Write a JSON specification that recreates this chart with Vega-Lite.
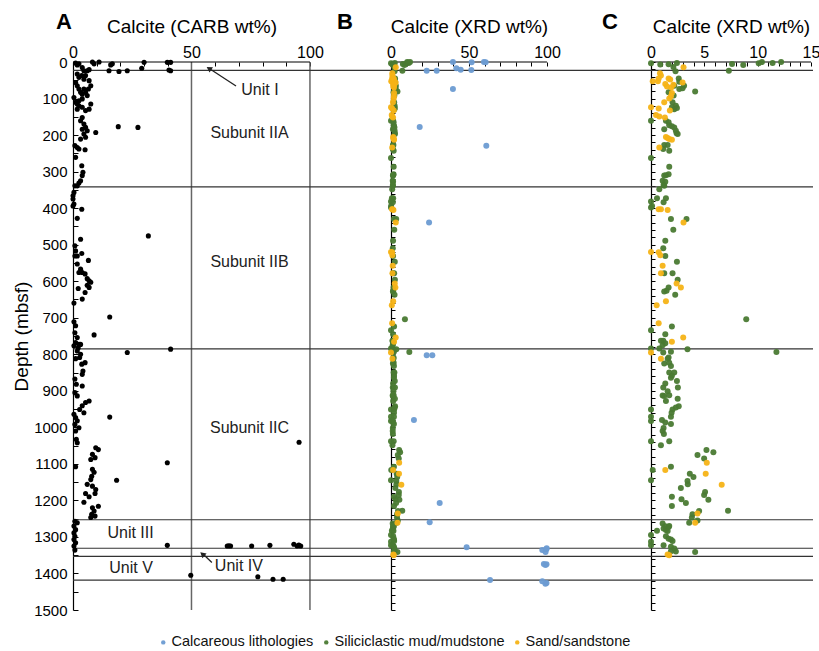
{
  "$schema": "https://vega.github.io/schema/vega-lite/v6.json",
  "autosize": {"type": "pad"},
  "padding": {"left": 12, "top": 11, "right": 0, "bottom": 5},
  "config": {
    "view": {"stroke": null},
    "font": "Liberation Sans",
    "axis": {"domainColor": "#000", "tickColor": "#000", "labelColor": "#000", "titleColor": "#000", "grid": false, "titleFontWeight": "normal", "domainWidth": 1.2, "tickWidth": 1, "labelOverlap": false, "tickCount": 500},
    "text": {"font": "Liberation Sans"}
  },
  "datasets": {
    "carb": [
      {"v":1.1,"d":3},{"v":1.8,"d":8},{"v":2.5,"d":5},{"v":8.2,"d":0},{"v":8.9,"d":5},{"v":11,"d":0},{"v":15.9,"d":8},{"v":16.6,"d":5},{"v":15.2,"d":24},{"v":19.4,"d":26},{"v":22.9,"d":24},{"v":29,"d":17},{"v":30,"d":1},{"v":39.8,"d":1},{"v":41.2,"d":1},{"v":40.5,"d":22},{"v":41.2,"d":24},
      {"v":3.9,"d":15},{"v":4.6,"d":24},{"v":6,"d":24},{"v":6.8,"d":21},
      {"v":1.8,"d":33},{"v":2.5,"d":42},{"v":3.7,"d":37},{"v":4.6,"d":47},{"v":5.3,"d":37},
      {"v":6.8,"d":51},{"v":7.5,"d":65},{"v":6.5,"d":74},{"v":5.3,"d":83},{"v":3.9,"d":88},
      {"v":1.1,"d":56},{"v":1.8,"d":65},{"v":2.5,"d":74},{"v":3.2,"d":83},
      {"v":4.6,"d":74},{"v":6,"d":92},{"v":3.9,"d":101},{"v":2.5,"d":106},
      {"v":0.4,"d":97},{"v":1.1,"d":110},{"v":1.8,"d":115},{"v":2.5,"d":120},{"v":1.8,"d":129},
      {"v":3.9,"d":124},{"v":5.3,"d":133},{"v":6.8,"d":129},{"v":7.5,"d":115},
      {"v":3.9,"d":152},{"v":3.2,"d":161},{"v":4.6,"d":170},{"v":5.3,"d":179},{"v":6,"d":188},{"v":3.9,"d":184},
      {"v":9.6,"d":193},{"v":19.1,"d":177},{"v":27.4,"d":179},
      {"v":4.6,"d":197},{"v":5.3,"d":206},{"v":3.2,"d":211},
      {"v":0.8,"d":229},{"v":1.8,"d":234},{"v":2.5,"d":238},{"v":5.1,"d":240},
      {"v":1.1,"d":261},{"v":3.7,"d":284},{"v":4.2,"d":302},{"v":3.9,"d":311},
      {"v":3.2,"d":325},{"v":2.5,"d":331},{"v":1.8,"d":339},{"v":0.8,"d":339},
      {"v":0.4,"d":357},{"v":0,"d":366},{"v":0,"d":375},{"v":0.4,"d":389},{"v":0,"d":394},
      {"v":3.7,"d":403},{"v":1.8,"d":428},{"v":31.8,"d":476},{"v":3.2,"d":485},
      {"v":0.8,"d":503},{"v":1.1,"d":517},{"v":1.8,"d":531},{"v":0.8,"d":531},{"v":3.7,"d":524},{"v":6.5,"d":543},
      {"v":1.8,"d":553},{"v":3.2,"d":567},{"v":2.5,"d":576},{"v":3.9,"d":576},{"v":5.1,"d":580},
      {"v":6,"d":593},{"v":6.8,"d":599},{"v":7.5,"d":603},{"v":6,"d":611},{"v":6.8,"d":617},{"v":5.1,"d":631},{"v":2.2,"d":620},
      {"v":3.9,"d":649},{"v":0.4,"d":660},{"v":15.5,"d":698},
      {"v":0.4,"d":711},{"v":1.1,"d":722},{"v":0.8,"d":741},{"v":1.8,"d":754},{"v":1.1,"d":768},{"v":2.5,"d":773},{"v":8.9,"d":747},
      {"v":0.4,"d":777},{"v":2.2,"d":782},{"v":3.2,"d":773},
      {"v":41.2,"d":786},{"v":22.9,"d":795},{"v":1.8,"d":791},{"v":3.2,"d":800},
      {"v":2.8,"d":809},{"v":1.1,"d":812},{"v":5.1,"d":823},{"v":3.7,"d":827},{"v":4.2,"d":846},{"v":3.9,"d":855},
      {"v":0.8,"d":868},{"v":1.4,"d":882},{"v":3.9,"d":887},{"v":0.8,"d":905},{"v":1.8,"d":914},
      {"v":6.8,"d":928},{"v":5.3,"d":932},{"v":3.9,"d":941},{"v":2.8,"d":951},{"v":4.6,"d":960},{"v":15.5,"d":972},
      {"v":0.4,"d":964},{"v":1.1,"d":973},{"v":1.8,"d":982},{"v":0.8,"d":992},{"v":2.5,"d":1001},{"v":1.1,"d":1010},
      {"v":1.4,"d":1033},{"v":1.8,"d":1042},{"v":95.4,"d":1041},
      {"v":9.6,"d":1056},{"v":10.7,"d":1061},{"v":8.2,"d":1074},{"v":9.3,"d":1083},{"v":7.5,"d":1088},
      {"v":39.8,"d":1097},{"v":1.1,"d":1108},
      {"v":8.2,"d":1115},{"v":8.9,"d":1123},{"v":7.9,"d":1134},{"v":7.5,"d":1143},{"v":6,"d":1156},{"v":8.2,"d":1161},{"v":18.4,"d":1145},
      {"v":4.6,"d":1205},{"v":9.6,"d":1170},{"v":9.3,"d":1181},{"v":5.3,"d":1181},{"v":6.8,"d":1190},
      {"v":10.7,"d":1216},{"v":8.2,"d":1220},{"v":8.9,"d":1229},{"v":7.9,"d":1238},{"v":9.3,"d":1243},{"v":7.5,"d":1247},
      {"v":0.8,"d":1257},{"v":1.8,"d":1261},{"v":0.4,"d":1270},{"v":1.1,"d":1280},{"v":0.4,"d":1289},{"v":0.8,"d":1298},{"v":0.4,"d":1307},{"v":1.1,"d":1316},{"v":0.4,"d":1325},{"v":0.8,"d":1336},
      {"v":39.8,"d":1323},
      {"v":65.1,"d":1325},{"v":66.5,"d":1325},{"v":65.8,"d":1324},{"v":75.4,"d":1325},{"v":83.1,"d":1323},{"v":93.2,"d":1320},{"v":94.6,"d":1325},{"v":96.1,"d":1325},{"v":95.3,"d":1322},
      {"v":49.7,"d":1405},{"v":78,"d":1409},{"v":84.4,"d":1416},{"v":88.7,"d":1416}
    ],
    "xrd": [
      {"lith":"Siliciclastic mud/mudstone","v":0,"d":3.6},{"lith":"Siliciclastic mud/mudstone","v":0.87,"d":7},{"lith":"Siliciclastic mud/mudstone","v":1.65,"d":6.4},{"lith":"Siliciclastic mud/mudstone","v":2.43,"d":2.7},{"lith":"Siliciclastic mud/mudstone","v":2.1,"d":14},{"lith":"Siliciclastic mud/mudstone","v":2.3,"d":25.6},{"lith":"Siliciclastic mud/mudstone","v":7.6,"d":5.5},{"lith":"Siliciclastic mud/mudstone","v":7.3,"d":23.7},{"lith":"Siliciclastic mud/mudstone","v":8.65,"d":8.2},{"lith":"Siliciclastic mud/mudstone","v":10.1,"d":3.7},{"lith":"Siliciclastic mud/mudstone","v":10.4,"d":0},{"lith":"Siliciclastic mud/mudstone","v":11.4,"d":2.7},{"lith":"Siliciclastic mud/mudstone","v":12.2,"d":0},
      {"lith":"Siliciclastic mud/mudstone","v":2.6,"d":45},{"lith":"Siliciclastic mud/mudstone","v":2.65,"d":54},{"lith":"Siliciclastic mud/mudstone","v":3.1,"d":65},{"lith":"Siliciclastic mud/mudstone","v":2.96,"d":72},{"lith":"Siliciclastic mud/mudstone","v":2.65,"d":74},{"lith":"Siliciclastic mud/mudstone","v":2.18,"d":65},{"lith":"Siliciclastic mud/mudstone","v":4.14,"d":81},{"lith":"Siliciclastic mud/mudstone","v":1.65,"d":83},
      {"lith":"Siliciclastic mud/mudstone","v":2.12,"d":92},{"lith":"Siliciclastic mud/mudstone","v":2.02,"d":110},{"lith":"Siliciclastic mud/mudstone","v":2.33,"d":120},{"lith":"Siliciclastic mud/mudstone","v":2.18,"d":129},{"lith":"Siliciclastic mud/mudstone","v":2.43,"d":126},{"lith":"Siliciclastic mud/mudstone","v":1.96,"d":124},
      {"lith":"Siliciclastic mud/mudstone","v":0,"d":161},{"lith":"Siliciclastic mud/mudstone","v":1.4,"d":161},{"lith":"Siliciclastic mud/mudstone","v":1.65,"d":165},{"lith":"Siliciclastic mud/mudstone","v":1.71,"d":173},{"lith":"Siliciclastic mud/mudstone","v":1.96,"d":176},{"lith":"Siliciclastic mud/mudstone","v":2.18,"d":179},{"lith":"Siliciclastic mud/mudstone","v":2.33,"d":188},{"lith":"Siliciclastic mud/mudstone","v":2.4,"d":195},{"lith":"Siliciclastic mud/mudstone","v":2.5,"d":197},{"lith":"Siliciclastic mud/mudstone","v":1.24,"d":184},
      {"lith":"Siliciclastic mud/mudstone","v":1.24,"d":227},{"lith":"Siliciclastic mud/mudstone","v":1.56,"d":227},{"lith":"Siliciclastic mud/mudstone","v":1.15,"d":238},{"lith":"Siliciclastic mud/mudstone","v":1.71,"d":243},{"lith":"Siliciclastic mud/mudstone","v":0,"d":263},{"lith":"Siliciclastic mud/mudstone","v":1.71,"d":287},{"lith":"Siliciclastic mud/mudstone","v":1.65,"d":307},{"lith":"Siliciclastic mud/mudstone","v":1.4,"d":310},{"lith":"Siliciclastic mud/mudstone","v":1.24,"d":311},
      {"lith":"Siliciclastic mud/mudstone","v":1.09,"d":325},{"lith":"Siliciclastic mud/mudstone","v":1.34,"d":328},{"lith":"Siliciclastic mud/mudstone","v":1.18,"d":337},{"lith":"Siliciclastic mud/mudstone","v":1.24,"d":339},
      {"lith":"Siliciclastic mud/mudstone","v":0.78,"d":348},{"lith":"Siliciclastic mud/mudstone","v":1.4,"d":373},{"lith":"Siliciclastic mud/mudstone","v":0.56,"d":373},{"lith":"Siliciclastic mud/mudstone","v":0,"d":382},{"lith":"Siliciclastic mud/mudstone","v":0.1,"d":394},{"lith":"Siliciclastic mud/mudstone","v":0,"d":398},{"lith":"Siliciclastic mud/mudstone","v":1.18,"d":384},
      {"lith":"Siliciclastic mud/mudstone","v":1.87,"d":430},{"lith":"Siliciclastic mud/mudstone","v":3.33,"d":430},{"lith":"Siliciclastic mud/mudstone","v":2.09,"d":459},{"lith":"Siliciclastic mud/mudstone","v":1.34,"d":489},{"lith":"Siliciclastic mud/mudstone","v":1.15,"d":510},{"lith":"Siliciclastic mud/mudstone","v":1.34,"d":531},{"lith":"Siliciclastic mud/mudstone","v":2.43,"d":547},
      {"lith":"Siliciclastic mud/mudstone","v":1.24,"d":578},{"lith":"Siliciclastic mud/mudstone","v":2.02,"d":578},{"lith":"Siliciclastic mud/mudstone","v":2.5,"d":596},{"lith":"Siliciclastic mud/mudstone","v":1.65,"d":617},{"lith":"Siliciclastic mud/mudstone","v":1.46,"d":626},{"lith":"Siliciclastic mud/mudstone","v":1.24,"d":628},{"lith":"Siliciclastic mud/mudstone","v":2.27,"d":637},
      {"lith":"Siliciclastic mud/mudstone","v":0,"d":734},{"lith":"Siliciclastic mud/mudstone","v":1.96,"d":724},{"lith":"Siliciclastic mud/mudstone","v":8.93,"d":704},{"lith":"Siliciclastic mud/mudstone","v":1.34,"d":745},{"lith":"Siliciclastic mud/mudstone","v":1.15,"d":763},{"lith":"Siliciclastic mud/mudstone","v":0.93,"d":763},{"lith":"Siliciclastic mud/mudstone","v":1.34,"d":770},{"lith":"Siliciclastic mud/mudstone","v":1.09,"d":775},
      {"lith":"Siliciclastic mud/mudstone","v":0,"d":784},{"lith":"Siliciclastic mud/mudstone","v":0.78,"d":784},{"lith":"Siliciclastic mud/mudstone","v":1.15,"d":795},{"lith":"Siliciclastic mud/mudstone","v":1.87,"d":793},{"lith":"Siliciclastic mud/mudstone","v":3.42,"d":786},{"lith":"Siliciclastic mud/mudstone","v":1.65,"d":809},{"lith":"Siliciclastic mud/mudstone","v":11.76,"d":794},
      {"lith":"Siliciclastic mud/mudstone","v":1.56,"d":812},{"lith":"Siliciclastic mud/mudstone","v":1.24,"d":825},{"lith":"Siliciclastic mud/mudstone","v":1.71,"d":823},{"lith":"Siliciclastic mud/mudstone","v":1.87,"d":832},{"lith":"Siliciclastic mud/mudstone","v":1.71,"d":850},{"lith":"Siliciclastic mud/mudstone","v":2.18,"d":850},{"lith":"Siliciclastic mud/mudstone","v":1.96,"d":859},{"lith":"Siliciclastic mud/mudstone","v":1.87,"d":864},
      {"lith":"Siliciclastic mud/mudstone","v":2.43,"d":873},{"lith":"Siliciclastic mud/mudstone","v":2.52,"d":891},{"lith":"Siliciclastic mud/mudstone","v":1.34,"d":880},{"lith":"Siliciclastic mud/mudstone","v":1.15,"d":891},{"lith":"Siliciclastic mud/mudstone","v":1.56,"d":901},
      {"lith":"Siliciclastic mud/mudstone","v":1.09,"d":913},{"lith":"Siliciclastic mud/mudstone","v":1.24,"d":914},{"lith":"Siliciclastic mud/mudstone","v":1.71,"d":912},{"lith":"Siliciclastic mud/mudstone","v":1.4,"d":928},{"lith":"Siliciclastic mud/mudstone","v":2.5,"d":922},
      {"lith":"Siliciclastic mud/mudstone","v":2.6,"d":942},{"lith":"Siliciclastic mud/mudstone","v":2.33,"d":946},{"lith":"Siliciclastic mud/mudstone","v":2.02,"d":951},{"lith":"Siliciclastic mud/mudstone","v":1.93,"d":960},{"lith":"Siliciclastic mud/mudstone","v":1.87,"d":971},{"lith":"Siliciclastic mud/mudstone","v":0,"d":951},{"lith":"Siliciclastic mud/mudstone","v":0,"d":971},{"lith":"Siliciclastic mud/mudstone","v":0,"d":983},
      {"lith":"Siliciclastic mud/mudstone","v":1.03,"d":980},{"lith":"Siliciclastic mud/mudstone","v":1.34,"d":987},{"lith":"Siliciclastic mud/mudstone","v":1.87,"d":991},{"lith":"Siliciclastic mud/mudstone","v":1.18,"d":1002},{"lith":"Siliciclastic mud/mudstone","v":1.09,"d":1010},{"lith":"Siliciclastic mud/mudstone","v":1.21,"d":1018},
      {"lith":"Siliciclastic mud/mudstone","v":0,"d":1038},{"lith":"Siliciclastic mud/mudstone","v":0.93,"d":1049},{"lith":"Siliciclastic mud/mudstone","v":1.71,"d":1038},
      {"lith":"Siliciclastic mud/mudstone","v":5.2,"d":1062},{"lith":"Siliciclastic mud/mudstone","v":5.85,"d":1068},{"lith":"Siliciclastic mud/mudstone","v":4.36,"d":1076},{"lith":"Siliciclastic mud/mudstone","v":4.98,"d":1085},
      {"lith":"Siliciclastic mud/mudstone","v":0.16,"d":1117},{"lith":"Siliciclastic mud/mudstone","v":1.87,"d":1108},{"lith":"Siliciclastic mud/mudstone","v":3.64,"d":1127},{"lith":"Siliciclastic mud/mudstone","v":3.98,"d":1136},{"lith":"Siliciclastic mud/mudstone","v":0,"d":1145},{"lith":"Siliciclastic mud/mudstone","v":3.42,"d":1147},{"lith":"Siliciclastic mud/mudstone","v":3.45,"d":1156},
      {"lith":"Siliciclastic mud/mudstone","v":2.8,"d":1166},{"lith":"Siliciclastic mud/mudstone","v":5.07,"d":1177},{"lith":"Siliciclastic mud/mudstone","v":4.98,"d":1185},{"lith":"Siliciclastic mud/mudstone","v":5.38,"d":1198},{"lith":"Siliciclastic mud/mudstone","v":1.96,"d":1190},{"lith":"Siliciclastic mud/mudstone","v":2.86,"d":1197},{"lith":"Siliciclastic mud/mudstone","v":3.27,"d":1207},{"lith":"Siliciclastic mud/mudstone","v":1.96,"d":1215},
      {"lith":"Siliciclastic mud/mudstone","v":7.22,"d":1228},{"lith":"Siliciclastic mud/mudstone","v":4.51,"d":1229},{"lith":"Siliciclastic mud/mudstone","v":3.89,"d":1238},{"lith":"Siliciclastic mud/mudstone","v":3.83,"d":1247},{"lith":"Siliciclastic mud/mudstone","v":3.58,"d":1261},{"lith":"Siliciclastic mud/mudstone","v":4.36,"d":1255},
      {"lith":"Siliciclastic mud/mudstone","v":1.09,"d":1263},{"lith":"Siliciclastic mud/mudstone","v":1.34,"d":1271},{"lith":"Siliciclastic mud/mudstone","v":1.65,"d":1273},{"lith":"Siliciclastic mud/mudstone","v":1.4,"d":1281},{"lith":"Siliciclastic mud/mudstone","v":1.18,"d":1277},{"lith":"Siliciclastic mud/mudstone","v":1.56,"d":1284},{"lith":"Siliciclastic mud/mudstone","v":1.71,"d":1270},{"lith":"Siliciclastic mud/mudstone","v":0.56,"d":1283},
      {"lith":"Siliciclastic mud/mudstone","v":0,"d":1295},{"lith":"Siliciclastic mud/mudstone","v":0,"d":1313},{"lith":"Siliciclastic mud/mudstone","v":0,"d":1323},{"lith":"Siliciclastic mud/mudstone","v":1.4,"d":1298},{"lith":"Siliciclastic mud/mudstone","v":1.87,"d":1307},{"lith":"Siliciclastic mud/mudstone","v":2.02,"d":1311},{"lith":"Siliciclastic mud/mudstone","v":1.65,"d":1305},
      {"lith":"Siliciclastic mud/mudstone","v":1.18,"d":1323},{"lith":"Siliciclastic mud/mudstone","v":1.87,"d":1327},{"lith":"Siliciclastic mud/mudstone","v":2.18,"d":1332},{"lith":"Siliciclastic mud/mudstone","v":2.33,"d":1340},{"lith":"Siliciclastic mud/mudstone","v":1.87,"d":1339},{"lith":"Siliciclastic mud/mudstone","v":4.14,"d":1341},
      {"lith":"Sand/sandstone","v":3.05,"d":14.6},{"lith":"Sand/sandstone","v":0.84,"d":31},{"lith":"Sand/sandstone","v":0.93,"d":37},{"lith":"Sand/sandstone","v":0.72,"d":45},{"lith":"Sand/sandstone","v":0.16,"d":53},{"lith":"Sand/sandstone","v":0.65,"d":53},{"lith":"Sand/sandstone","v":1.65,"d":45},{"lith":"Sand/sandstone","v":1.8,"d":48},{"lith":"Sand/sandstone","v":1.34,"d":60},{"lith":"Sand/sandstone","v":2.96,"d":56},
      {"lith":"Sand/sandstone","v":1.5,"d":67},{"lith":"Sand/sandstone","v":1.9,"d":70},{"lith":"Sand/sandstone","v":2.1,"d":62},
      {"lith":"Sand/sandstone","v":1.96,"d":85},{"lith":"Sand/sandstone","v":1.71,"d":100},{"lith":"Sand/sandstone","v":1.87,"d":94},{"lith":"Sand/sandstone","v":1.24,"d":110},{"lith":"Sand/sandstone","v":0,"d":124},{"lith":"Sand/sandstone","v":0.72,"d":127},{"lith":"Sand/sandstone","v":1.77,"d":133},
      {"lith":"Sand/sandstone","v":0.47,"d":145},{"lith":"Sand/sandstone","v":0.78,"d":149},{"lith":"Sand/sandstone","v":1.3,"d":152},
      {"lith":"Sand/sandstone","v":1.4,"d":205},{"lith":"Sand/sandstone","v":1.56,"d":208},{"lith":"Sand/sandstone","v":1.71,"d":211},{"lith":"Sand/sandstone","v":1.96,"d":213},{"lith":"Sand/sandstone","v":0.78,"d":234},
      {"lith":"Sand/sandstone","v":0.72,"d":403},{"lith":"Sand/sandstone","v":0.93,"d":403},{"lith":"Sand/sandstone","v":1.56,"d":405},{"lith":"Sand/sandstone","v":3.05,"d":439},
      {"lith":"Sand/sandstone","v":0,"d":520},{"lith":"Sand/sandstone","v":0.72,"d":521},{"lith":"Sand/sandstone","v":0.87,"d":529},{"lith":"Sand/sandstone","v":1.09,"d":558},{"lith":"Sand/sandstone","v":0.93,"d":578},{"lith":"Sand/sandstone","v":2.4,"d":606},{"lith":"Sand/sandstone","v":2.8,"d":617},
      {"lith":"Sand/sandstone","v":1.4,"d":655},{"lith":"Sand/sandstone","v":0.53,"d":666},{"lith":"Sand/sandstone","v":0.72,"d":715},{"lith":"Sand/sandstone","v":3.02,"d":754},{"lith":"Sand/sandstone","v":1.96,"d":766},
      {"lith":"Sand/sandstone","v":0,"d":795},{"lith":"Sand/sandstone","v":0.93,"d":812},
      {"lith":"Sand/sandstone","v":5.23,"d":1097},{"lith":"Sand/sandstone","v":1.34,"d":1117},{"lith":"Sand/sandstone","v":5.13,"d":1127},{"lith":"Sand/sandstone","v":6.63,"d":1157},{"lith":"Sand/sandstone","v":4.36,"d":1236},{"lith":"Sand/sandstone","v":4.14,"d":1261},
      {"lith":"Sand/sandstone","v":1.56,"d":1348},{"lith":"Sand/sandstone","v":1.71,"d":1350},
      {"lith":"Calcareous lithologies","v":39.7,"d":0},{"lith":"Calcareous lithologies","v":51.7,"d":1},{"lith":"Calcareous lithologies","v":59.6,"d":0},{"lith":"Calcareous lithologies","v":60.7,"d":1},{"lith":"Calcareous lithologies","v":22.9,"d":24},{"lith":"Calcareous lithologies","v":29.3,"d":24},{"lith":"Calcareous lithologies","v":41.9,"d":17},{"lith":"Calcareous lithologies","v":44.7,"d":21},{"lith":"Calcareous lithologies","v":51.5,"d":22},{"lith":"Calcareous lithologies","v":39.7,"d":74},{"lith":"Calcareous lithologies","v":18.4,"d":178},{"lith":"Calcareous lithologies","v":61.1,"d":229},{"lith":"Calcareous lithologies","v":24.4,"d":439},{"lith":"Calcareous lithologies","v":22.9,"d":803},{"lith":"Calcareous lithologies","v":26.5,"d":803},{"lith":"Calcareous lithologies","v":14.7,"d":980},{"lith":"Calcareous lithologies","v":31.2,"d":1207},{"lith":"Calcareous lithologies","v":24.8,"d":1260},{"lith":"Calcareous lithologies","v":48.5,"d":1328},{"lith":"Calcareous lithologies","v":97,"d":1336},{"lith":"Calcareous lithologies","v":99.6,"d":1334},{"lith":"Calcareous lithologies","v":99.1,"d":1341},{"lith":"Calcareous lithologies","v":99.8,"d":1331},{"lith":"Calcareous lithologies","v":98,"d":1374},{"lith":"Calcareous lithologies","v":99.7,"d":1375},{"lith":"Calcareous lithologies","v":99,"d":1377},{"lith":"Calcareous lithologies","v":63.5,"d":1418},{"lith":"Calcareous lithologies","v":97,"d":1421},{"lith":"Calcareous lithologies","v":99.7,"d":1426},{"lith":"Calcareous lithologies","v":99,"d":1428}
    ],
    "bounds": [{"d":23},{"d":342},{"d":785},{"d":1253},{"d":1331},{"d":1353},{"d":1418}],
    "labels": [
      {"t":"Unit I","v":78.9,"d":77},
      {"t":"Subunit IIA","v":74.5,"d":194},
      {"t":"Subunit IIB","v":74.5,"d":548},
      {"t":"Subunit IIC","v":74.5,"d":1001},
      {"t":"Unit III","v":24.3,"d":1290},
      {"t":"Unit V","v":24.5,"d":1385},
      {"t":"Unit IV","v":70,"d":1379}
    ],
    "arrows": [
      {"id":"Unit I","v":68.8,"d":65.8,"v2":57.5,"d2":18},
      {"id":"Unit IV","v":58.6,"d":1370,"v2":55.2,"d2":1349}
    ],
    "heads": [
      {"id":"Unit I","v":57.7,"d":18.9},
      {"id":"Unit IV","v":54.9,"d":1348.7}
    ]
  },
  "spacing": 0,
  "bounds": "flush",
  "resolve": {"scale": {"color": "shared"}},
  "hconcat": [
    {
      "width": 318,
      "height": 548,
      "title": {"text": "A", "anchor": "start", "frame": "group", "dx": -17, "fontSize": 22, "fontWeight": "bold", "offset": -34, "baseline": "alphabetic", "color": "#000"},
      "layer": [
        {
          "data": {"name": "carb"},
          "mark": {"type": "point", "shape": "circle", "filled": true, "color": "#000", "size": 26, "opacity": 0},
          "encoding": {
            "x": {"field": "v", "type": "quantitative", "scale": {"domain": [0, 134.2], "nice": false, "zero": false},
              "axis": {"orient": "top", "tickCount": 500, "format": "d", "values": [0,10,20,30,40,50,60,70,80,90,100], "labelExpr": "datum.value % 50 === 0 ? datum.label : ''", "domain": false, "tickSize": -4, "labelPadding": 6, "labelFontSize": 16, "labelFlush": false, "title": "Calcite (CARB wt%)", "titleFontSize": 19, "titleX": 118.5, "titleY": -30, "titleBaseline": "alphabetic", "titleAlign": "center"}},
            "y": {"field": "d", "type": "quantitative", "scale": {"domain": [0, 1500], "reverse": true, "nice": false, "zero": false},
              "axis": {"orient": "left", "tickCount": 500, "format": "d", "values": [0,50,100,150,200,250,300,350,400,450,500,550,600,650,700,750,800,850,900,950,1000,1050,1100,1150,1200,1250,1300,1350,1400,1450,1500], "labelExpr": "datum.value % 100 === 0 ? datum.label : ''", "tickSize": -5, "labelPadding": 11, "labelFontSize": 15, "labelFlush": false, "labelOverlap": false, "labelBound": false, "title": "Depth (mbsf)", "titleFontSize": 19, "titleX": -52, "titleY": 274, "titleAngle": -90, "titleBaseline": "middle", "titleAlign": "center"}}
          }
        },
        {
          "data": {"values": [{"v": 50}, {"v": 100}]},
          "mark": {"type": "rule", "stroke": "#666", "strokeWidth": 1.5},
          "encoding": {
            "x": {"field": "v", "type": "quantitative", "scale": {"domain": [0, 134.2], "nice": false, "zero": false}}
          }
        },
        {
          "data": {"name": "bounds"},
          "mark": {"type": "rule", "stroke": "#333", "strokeWidth": 1.2},
          "encoding": {
            "y": {"field": "d", "type": "quantitative", "scale": {"domain": [0, 1500], "reverse": true, "nice": false, "zero": false}}
          }
        },
        {
          "data": {"values": [{"v": 0, "v2": 100, "d": 0}]},
          "mark": {"type": "rule", "stroke": "#000", "strokeWidth": 1.2},
          "encoding": {
            "x": {"field": "v", "type": "quantitative", "scale": {"domain": [0, 134.2], "nice": false, "zero": false}},
            "x2": {"field": "v2"},
            "y": {"field": "d", "type": "quantitative", "scale": {"domain": [0, 1500], "reverse": true, "nice": false, "zero": false}}
          }
        },
        {
          "data": {"name": "carb"},
          "mark": {"type": "point", "shape": "circle", "filled": true, "color": "#000", "size": 26, "opacity": 1},
          "encoding": {
            "x": {"field": "v", "type": "quantitative", "scale": {"domain": [0, 134.2], "nice": false, "zero": false}},
            "y": {"field": "d", "type": "quantitative", "scale": {"domain": [0, 1500], "reverse": true, "nice": false, "zero": false}}
          }
        },
        {
          "data": {"name": "labels"},
          "mark": {"type": "text", "fontSize": 16, "color": "#222", "align": "center", "baseline": "middle"},
          "encoding": {
            "x": {"field": "v", "type": "quantitative", "scale": {"domain": [0, 134.2], "nice": false, "zero": false}},
            "y": {"field": "d", "type": "quantitative", "scale": {"domain": [0, 1500], "reverse": true, "nice": false, "zero": false}},
            "text": {"field": "t"}
          }
        },
        {
          "data": {"name": "arrows"},
          "mark": {"type": "rule", "stroke": "#222", "strokeWidth": 1.3},
          "encoding": {
            "x": {"field": "v", "type": "quantitative", "scale": {"domain": [0, 134.2], "nice": false, "zero": false}},
            "x2": {"field": "v2"},
            "y": {"field": "d", "type": "quantitative", "scale": {"domain": [0, 1500], "reverse": true, "nice": false, "zero": false}},
            "y2": {"field": "d2"}
          }
        },
        {
          "data": {"name": "heads"},
          "transform": [{"filter": "datum.id === 'Unit I'"}],
          "mark": {"type": "point", "shape": "triangle", "filled": true, "color": "#222", "size": 40, "angle": 303, "opacity": 1},
          "encoding": {
            "x": {"field": "v", "type": "quantitative", "scale": {"domain": [0, 134.2], "nice": false, "zero": false}},
            "y": {"field": "d", "type": "quantitative", "scale": {"domain": [0, 1500], "reverse": true, "nice": false, "zero": false}}
          }
        },
        {
          "data": {"name": "heads"},
          "transform": [{"filter": "datum.id === 'Unit IV'"}],
          "mark": {"type": "point", "shape": "triangle", "filled": true, "color": "#222", "size": 40, "angle": 311, "opacity": 1},
          "encoding": {
            "x": {"field": "v", "type": "quantitative", "scale": {"domain": [0, 134.2], "nice": false, "zero": false}},
            "y": {"field": "d", "type": "quantitative", "scale": {"domain": [0, 1500], "reverse": true, "nice": false, "zero": false}}
          }
        }
      ]
    },
    {
      "width": 260,
      "height": 548,
      "title": {"text": "B", "anchor": "start", "frame": "group", "dx": -54, "fontSize": 22, "fontWeight": "bold", "offset": -34, "baseline": "alphabetic", "color": "#000"},
      "layer": [
        {
          "data": {"name": "xrd"},
          "mark": {"type": "point", "shape": "circle", "filled": true, "size": 36, "opacity": 0},
          "encoding": {
            "x": {"field": "v", "type": "quantitative", "scale": {"domain": [0, 166.7], "nice": false, "zero": false},
              "axis": {"orient": "top", "tickCount": 500, "format": "d", "values": [0,10,20,30,40,50,60,70,80,90,100], "labelExpr": "datum.value % 50 === 0 ? datum.label : ''", "domain": false, "tickSize": -4, "labelPadding": 6, "labelFontSize": 16, "labelFlush": false, "title": "Calcite (XRD wt%)", "titleFontSize": 19, "titleX": 78, "titleY": -30, "titleBaseline": "alphabetic", "titleAlign": "center"}},
            "y": {"field": "d", "type": "quantitative", "scale": {"domain": [0, 1500], "reverse": true, "nice": false, "zero": false},
              "axis": {"orient": "left", "tickCount": 500, "values": [0,20,40,60,80,100,120,140,160,180,200,220,240,260,280,300,320,340,360,380,400,420,440,460,480,500,520,540,560,580,600,620,640,660,680,700,720,740,760,780,800,820,840,860,880,900,920,940,960,980,1000,1020,1040,1060,1080,1100,1120,1140,1160,1180,1200,1220,1240,1260,1280,1300,1320,1340,1360,1380,1400,1420,1440,1460,1480,1500], "labels": false, "tickSize": -4, "title": null}}
          }
        },
        {
          "data": {"name": "bounds"},
          "mark": {"type": "rule", "stroke": "#333", "strokeWidth": 1.2},
          "encoding": {
            "y": {"field": "d", "type": "quantitative", "scale": {"domain": [0, 1500], "reverse": true, "nice": false, "zero": false}}
          }
        },
        {
          "data": {"values": [{"v": 0, "v2": 100, "d": 0}]},
          "mark": {"type": "rule", "stroke": "#000", "strokeWidth": 1.2},
          "encoding": {
            "x": {"field": "v", "type": "quantitative", "scale": {"domain": [0, 166.7], "nice": false, "zero": false}},
            "x2": {"field": "v2"},
            "y": {"field": "d", "type": "quantitative", "scale": {"domain": [0, 1500], "reverse": true, "nice": false, "zero": false}}
          }
        },
        {
          "data": {"name": "xrd"},
          "mark": {"type": "point", "shape": "circle", "filled": true, "size": 36, "opacity": 0.95},
          "encoding": {
            "x": {"field": "v", "type": "quantitative", "scale": {"domain": [0, 166.7], "nice": false, "zero": false}},
            "y": {"field": "d", "type": "quantitative", "scale": {"domain": [0, 1500], "reverse": true, "nice": false, "zero": false}},
            "color": {"field": "lith", "type": "nominal",
              "scale": {"domain": ["Calcareous lithologies", "Siliciclastic mud/mudstone", "Sand/sandstone"], "range": ["#6B9BD2", "#4A7A33", "#F5B316"]},
              "legend": {"orient": "none", "legendX": 83, "legendY": 573, "direction": "horizontal", "title": null, "symbolType": "circle", "symbolSize": 20, "labelFontSize": 14.5, "labelColor": "#111", "labelLimit": 400, "columnPadding": 5, "labelOffset": 1, "padding": 0}}
          }
        }
      ]
    },
    {
      "width": 162,
      "height": 548,
      "title": {"text": "C", "anchor": "start", "frame": "group", "dx": -49, "fontSize": 22, "fontWeight": "bold", "offset": -34, "baseline": "alphabetic", "color": "#000"},
      "layer": [
        {
          "data": {"name": "xrd"},
          "transform": [{"filter": "datum.lith !== 'Calcareous lithologies'"}],
          "mark": {"type": "point", "shape": "circle", "filled": true, "size": 36, "opacity": 0},
          "encoding": {
            "x": {"field": "v", "type": "quantitative", "scale": {"domain": [0, 15.19], "nice": false, "zero": false},
              "axis": {"orient": "top", "tickCount": 500, "format": "d", "values": [0,1,2,3,4,5,6,7,8,9,10,11,12,13,14,15], "labelExpr": "datum.value % 5 === 0 ? datum.label : ''", "domain": false, "tickSize": -4, "labelPadding": 6, "labelFontSize": 16, "labelFlush": false, "title": "Calcite (XRD wt%)", "titleFontSize": 19, "titleX": 80, "titleY": -30, "titleBaseline": "alphabetic", "titleAlign": "center"}},
            "y": {"field": "d", "type": "quantitative", "scale": {"domain": [0, 1500], "reverse": true, "nice": false, "zero": false},
              "axis": {"orient": "left", "tickCount": 500, "values": [0,20,40,60,80,100,120,140,160,180,200,220,240,260,280,300,320,340,360,380,400,420,440,460,480,500,520,540,560,580,600,620,640,660,680,700,720,740,760,780,800,820,840,860,880,900,920,940,960,980,1000,1020,1040,1060,1080,1100,1120,1140,1160,1180,1200,1220,1240,1260,1280,1300,1320,1340,1360,1380,1400,1420,1440,1460,1480,1500], "labels": false, "tickSize": -4, "title": null}}
          }
        },
        {
          "data": {"name": "bounds"},
          "mark": {"type": "rule", "stroke": "#333", "strokeWidth": 1.2},
          "encoding": {
            "y": {"field": "d", "type": "quantitative", "scale": {"domain": [0, 1500], "reverse": true, "nice": false, "zero": false}}
          }
        },
        {
          "data": {"values": [{"v": 0, "v2": 15, "d": 0}]},
          "mark": {"type": "rule", "stroke": "#000", "strokeWidth": 1.2},
          "encoding": {
            "x": {"field": "v", "type": "quantitative", "scale": {"domain": [0, 15.19], "nice": false, "zero": false}},
            "x2": {"field": "v2"},
            "y": {"field": "d", "type": "quantitative", "scale": {"domain": [0, 1500], "reverse": true, "nice": false, "zero": false}}
          }
        },
        {
          "data": {"name": "xrd"},
          "transform": [{"filter": "datum.lith !== 'Calcareous lithologies'"}],
          "mark": {"type": "point", "shape": "circle", "filled": true, "size": 36, "opacity": 0.95},
          "encoding": {
            "x": {"field": "v", "type": "quantitative", "scale": {"domain": [0, 15.19], "nice": false, "zero": false}},
            "y": {"field": "d", "type": "quantitative", "scale": {"domain": [0, 1500], "reverse": true, "nice": false, "zero": false}},
            "color": {"field": "lith", "type": "nominal",
              "scale": {"domain": ["Calcareous lithologies", "Siliciclastic mud/mudstone", "Sand/sandstone"], "range": ["#6B9BD2", "#4A7A33", "#F5B316"]},
              "legend": null}
          }
        }
      ]
    }
  ]
}
